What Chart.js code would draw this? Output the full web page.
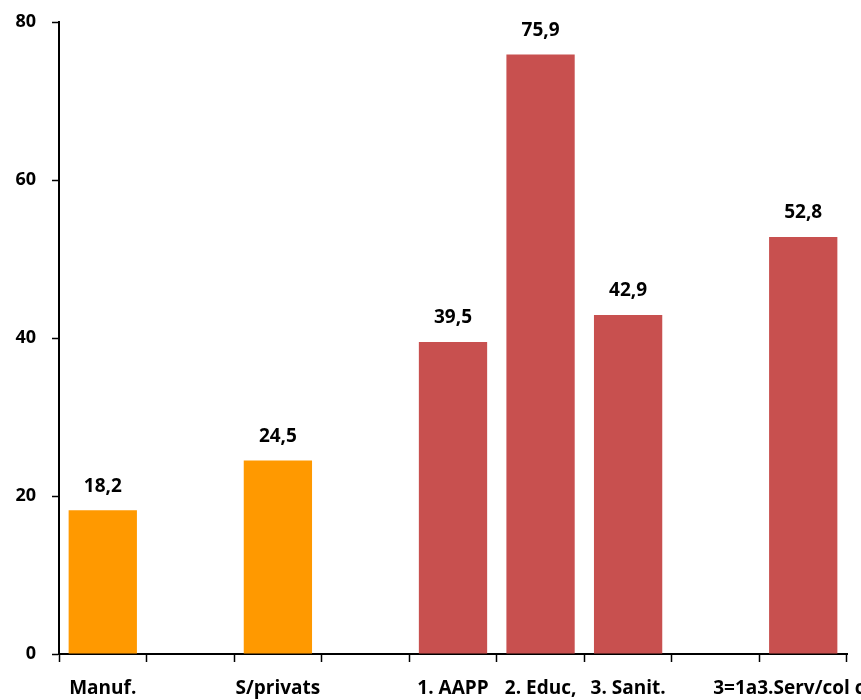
<!DOCTYPE html>
<html>
<head>
<meta charset="utf-8">
<script src="https://cdn.jsdelivr.net/npm/chart.js@4/dist/chart.umd.min.js"></script>
<style>
    html, body { margin: 0; padding: 0; background: #fff; overflow: hidden; }
    #wrap { width: 861px; height: 700px; }
</style>
</head>
<body>
<div id="wrap"><canvas id="barChart"></canvas></div>
<script>
const categories = ["Manuf.", "", "S/privats", "", "1. AAPP", "2. Educ,", "3. Sanit.", "", "3=1a3.Serv/col coll."];
const values = [18.2, null, 24.5, null, 39.5, 75.9, 42.9, null, 52.8];
const barColors = ["#ff9900", null, "#ff9900", null, "#c8504f", "#c8504f", "#c8504f", null, "#c8504f"];
const yTicks = [0, 20, 40, 60, 80];

const fontFamily = "'Open Sans', Lato, sans-serif";

const valueLabels = {
    id: "valueLabels",
    afterDatasetsDraw(chart) {
        const ctx = chart.ctx;
        const meta = chart.getDatasetMeta(0);
        ctx.save();
        ctx.font = "bold 19px " + fontFamily;
        ctx.fillStyle = "#000";
        ctx.textAlign = "center";
        ctx.textBaseline = "middle";
        meta.data.forEach((bar, i) => {
            const v = values[i];
            if (v === null) return;
            ctx.fillText(v.toFixed(1).replace(".", ","), bar.x, bar.y - 24);
        });
        ctx.restore();
    },
};

new Chart(document.getElementById("barChart"), {
    type: "bar",
    data: {
        labels: categories,
        datasets: [
            {
                data: values,
                backgroundColor: barColors,
                categoryPercentage: 0.78,
                barPercentage: 1,
            },
        ],
    },
    options: {
        responsive: true,
        maintainAspectRatio: false,
        animation: false,
        layout: { padding: { top: 22, right: 14, left: 0, bottom: 0 } },
        plugins: {
            legend: { display: false },
            tooltip: { enabled: false },
        },
        scales: {
            x: {
                grid: {
                    display: true,
                    offset: true,
                    drawOnChartArea: false,
                    tickLength: 8,
                    tickColor: "#000",
                    tickWidth: 1.5,
                },
                border: { color: "#000", width: 2 },
                ticks: {
                    autoSkip: false,
                    maxRotation: 0,
                    minRotation: 0,
                    padding: 15,
                    color: "#000",
                    font: { family: fontFamily, size: 19, weight: "bold" },
                },
                afterFit(scale) {
                    scale.paddingLeft = 0;
                    scale.paddingRight = 0;
                    scale.height = 46;
                },
            },
            y: {
                min: 0,
                max: 80,
                afterBuildTicks(scale) {
                    scale.ticks = yTicks.map((v) => ({ value: v }));
                },
                grid: {
                    display: true,
                    drawOnChartArea: false,
                    tickLength: 7,
                    tickColor: "#000",
                    tickWidth: 1.5,
                },
                border: { color: "#000", width: 2 },
                ticks: {
                    padding: 16,
                    color: "#000",
                    font: { family: fontFamily, size: 18, weight: "bold" },
                },
                afterFit(scale) {
                    scale.width = 59;
                    scale.paddingTop = 0;
                    scale.paddingBottom = 0;
                },
            },
        },
    },
    plugins: [valueLabels],
});
</script>
</body>
</html>
